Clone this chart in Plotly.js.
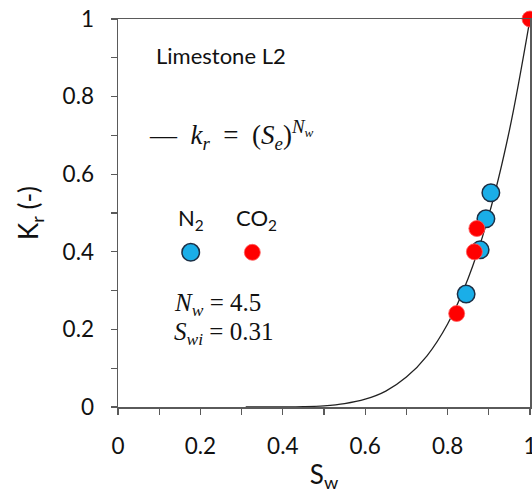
<!DOCTYPE html>
<html>
<head>
<meta charset="utf-8">
<script src="https://cdn.plot.ly/plotly-3.0.1.min.js"></script>
<style>html,body{margin:0;padding:0;background:#fff}</style>
</head>
<body>
<div id="chart" style="width:532px;height:502px"></div>
<script>
// Model curve kr = (Se)^Nw (Nw = 4.5, Swi = 0.31)
const curveSw = [0.31, 0.35, 0.40, 0.45, 0.50, 0.55, 0.60, 0.65, 0.70, 0.75, 0.80, 0.85, 0.90, 0.95, 1.00];
const curveKr = [0, 0.000003, 0.0001, 0.0008, 0.003, 0.0086, 0.020, 0.041, 0.077, 0.132, 0.214, 0.332, 0.494, 0.713, 1.0];

// N2 measurements
const n2Sw = [0.905, 0.893, 0.879, 0.845];
const n2Kr = [0.552, 0.485, 0.405, 0.291];

// CO2 measurements
const co2Sw = [1.0, 0.871, 0.865, 0.822];
const co2Kr = [1.0, 0.460, 0.400, 0.241];

const xTickVals = [0, 0.2, 0.4, 0.6, 0.8, 1];
const xTickText = ['0', '0.2', '0.4', '0.6', '0.8', '1'];
const yTickVals = [0, 0.2, 0.4, 0.6, 0.8, 1];
const yTickText = ['0', '0.2', '0.4', '0.6', '0.8', '1'];

const sans = 'Lato, "Open Sans", sans-serif';
const serif = '"Liberation Serif", "DejaVu Serif", serif';
const axisColor = '#5a5a5a';
const txt = '#111';
const sp = '\u00A0';

const traces = [
  {x: curveSw, y: curveKr, mode: 'lines', line: {color: '#222', width: 1.3, shape: 'spline'},
   hoverinfo: 'skip', showlegend: false, cliponaxis: false},
  {x: n2Sw, y: n2Kr, mode: 'markers', name: 'N2', showlegend: false, cliponaxis: false,
   marker: {size: 17.5, color: '#1aaee8', line: {color: '#1c2f45', width: 1.5}}},
  {x: co2Sw, y: co2Kr, mode: 'markers', name: 'CO2', showlegend: false, cliponaxis: false,
   marker: {size: 16, color: '#ff0000', line: {color: '#ff6060', width: 0.8}}}
];

const layout = {
  width: 532, height: 502,
  margin: {l: 118, r: 2, t: 19, b: 95},
  paper_bgcolor: '#fff', plot_bgcolor: '#fff',
  showlegend: false,
  font: {family: sans, color: txt},
  xaxis: {
    range: [0, 1], showgrid: false, zeroline: false,
    showline: true, linecolor: axisColor, linewidth: 1.5, mirror: true,
    ticks: 'outside', ticklen: 6, tickwidth: 1.3, tickcolor: axisColor,
    tickvals: xTickVals, ticktext: xTickText, ticklabelstandoff: 12,
    ticklabeloverflow: 'allow',
    tickfont: {family: sans, size: 22.5, color: txt},
    minor: {dtick: 0.1, ticks: 'outside', ticklen: 6, tickwidth: 1.3, tickcolor: axisColor, showgrid: false},
    title: {text: 'S<sub>w</sub>', font: {family: sans, size: 26, color: txt}, standoff: 8}
  },
  yaxis: {
    range: [0, 1], showgrid: false, zeroline: false,
    showline: true, linecolor: axisColor, linewidth: 1.5, mirror: true,
    ticks: 'outside', ticklen: 6, tickwidth: 1.3, tickcolor: axisColor,
    tickvals: yTickVals, ticktext: yTickText, ticklabelstandoff: 12,
    ticklabeloverflow: 'allow',
    tickfont: {family: sans, size: 22.5, color: txt},
    minor: {dtick: 0.1, ticks: 'outside', ticklen: 6, tickwidth: 1.3, tickcolor: axisColor, showgrid: false},
    title: {text: 'K<sub>r</sub> (-)', font: {family: sans, size: 26, color: txt}, standoff: 16}
  },
  annotations: [
    {xref: 'paper', yref: 'paper', x: 0.087, y: 0.905, xanchor: 'left', yanchor: 'middle', showarrow: false,
     text: 'Limestone L2', font: {family: sans, size: 22, color: txt}},
    {xref: 'paper', yref: 'paper', x: 0.07, y: 0.70, xanchor: 'left', yanchor: 'middle', showarrow: false,
     text: '—' + sp + sp + '<i>k<sub>r</sub></i>' + sp + sp + '=' + sp + sp + '(<i>S<sub>e</sub></i>)<sup><i>N<sub>w</sub></i></sup>',
     font: {family: serif, size: 27, color: txt}},
    {xref: 'paper', yref: 'paper', x: 0.176, y: 0.485, xanchor: 'center', yanchor: 'middle', showarrow: false,
     text: 'N<sub>2</sub>', font: {family: sans, size: 22, color: txt}},
    {xref: 'paper', yref: 'paper', x: 0.337, y: 0.485, xanchor: 'center', yanchor: 'middle', showarrow: false,
     text: 'CO<sub>2</sub>', font: {family: sans, size: 22, color: txt}},
    {xref: 'paper', yref: 'paper', x: 0.13, y: 0.263, xanchor: 'left', yanchor: 'middle', showarrow: false,
     text: '<i>N<sub>w</sub></i>' + sp + '=' + sp + '4.5', font: {family: serif, size: 25, color: txt}},
    {xref: 'paper', yref: 'paper', x: 0.13, y: 0.19, xanchor: 'left', yanchor: 'middle', showarrow: false,
     text: '<i>S<sub>wi</sub></i>' + sp + '=' + sp + '0.31', font: {family: serif, size: 25, color: txt}}
  ],
  shapes: [
    {type: 'circle', xref: 'paper', yref: 'paper', xsizemode: 'pixel', ysizemode: 'pixel',
     xanchor: 0.1765, yanchor: 0.3987, x0: -8.75, x1: 8.75, y0: -8.75, y1: 8.75,
     fillcolor: '#1aaee8', line: {color: '#1c2f45', width: 1.5}},
    {type: 'circle', xref: 'paper', yref: 'paper', xsizemode: 'pixel', ysizemode: 'pixel',
     xanchor: 0.326, yanchor: 0.3987, x0: -8, x1: 8, y0: -8, y1: 8,
     fillcolor: '#ff0000', line: {color: '#ff6060', width: 0.8}}
  ]
};

Plotly.newPlot('chart', traces, layout, {staticPlot: true, displayModeBar: false});
</script>
</body>
</html>
